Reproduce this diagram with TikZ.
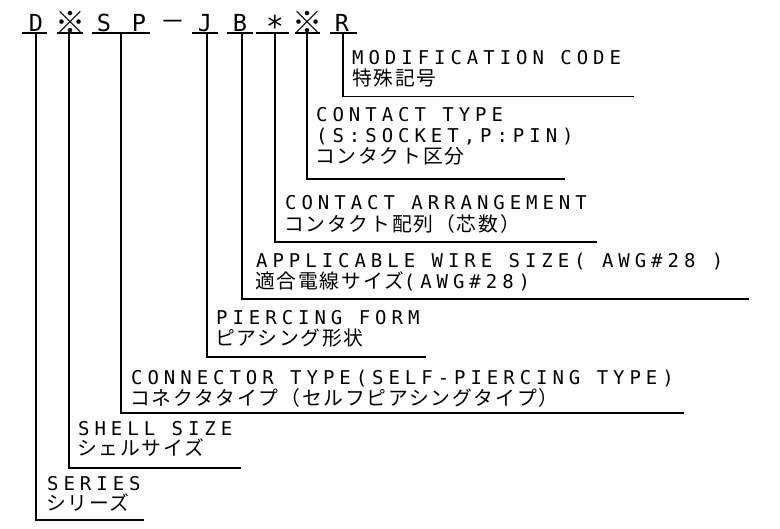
\documentclass[tikz,border=0pt]{standalone}
\usepackage{fontspec}
\newfontfamily\latfont[LetterSpace=26.1]{DejaVu Sans Mono}
\newfontfamily\codefont{DejaVu Sans Mono}
\newfontfamily\jpfont[LetterSpace=9]{Noto Sans CJK JP}
\newfontfamily\jpcode{Noto Sans CJK JP}
\newcommand{\lat}[1]{{\fontsize{19}{20}\latfont #1}}
\newcommand{\jp}[1]{{\fontsize{19.8}{22}\jpfont #1}}
\begin{document}
\begin{tikzpicture}[x=1pt,y=-1pt,
	lead/.style={line width=1.6pt},
	txt/.style={anchor=base west,inner sep=0pt},
	chr/.style={anchor=base,inner sep=0pt,font=\codefont\fontsize{23.5}{24}\selectfont},
	sym/.style={anchor=base,inner sep=0pt,font=\jpcode\fontsize{30}{30}\selectfont}]
	\useasboundingbox[fill=white] (0,0) rectangle (780,529);
	
	% Part number
	\node[chr] (pD) at (36,32) {D};
	\node[sym] (pShell) at (71,33.5) {※};
	\node[chr] (pS) at (104,32) {S};
	\node[chr] (pP) at (139,32) {P};
	\node[sym,font=\jpcode\fontsize{25}{25}\selectfont] (pDash) at (173,30.5) {－};
	\node[chr] (pJ) at (205,32) {J};
	\node[chr] (pB) at (240,32) {B};
	\node[chr,font=\codefont\fontsize{30}{30}\selectfont] (pAst) at (275,38) {*};
	\node[sym] (pType) at (307,33.5) {※};
	\node[chr] (pR) at (342,32) {R};
	
	% Underlines
	\draw[lead] (22,33.3) -- (47,33.3);
	\draw[lead] (57,33.3) -- (83,33.3);
	\draw[lead] (92,33.3) -- (150,33.3);
	\draw[lead] (192,33.3) -- (218,33.3);
	\draw[lead] (227,33.3) -- (253,33.3);
	\draw[lead] (256,33.3) -- (289,33.3);
	\draw[lead] (295,33.3) -- (320,33.3);
	\draw[lead] (330,33.3) -- (357,33.3);
	
	% Leader start and end points
	\coordinate (uSeries) at (36,33.3);
	\coordinate (uShell) at (69,33.3);
	\coordinate (uConn) at (121,33.3);
	\coordinate (uPierce) at (207,33.3);
	\coordinate (uWire) at (242,33.3);
	\coordinate (uArr) at (275,33.3);
	\coordinate (uContact) at (307,33.3);
	\coordinate (uMod) at (343,33.3);
	\coordinate (eSeries) at (144,520);
	\coordinate (eShell) at (241,468);
	\coordinate (eConn) at (684,413);
	\coordinate (ePierce) at (426,357);
	\coordinate (eWire) at (749,299);
	\coordinate (eArr) at (597,242);
	\coordinate (eContact) at (565,179);
	\coordinate (eMod) at (634,96.7);
	
	% Leaders
	\draw[lead] (uSeries) |- (eSeries);
	\draw[lead] (uShell) |- (eShell);
	\draw[lead] (uConn) |- (eConn);
	\draw[lead] (uPierce) |- (ePierce);
	\draw[lead] (uWire) |- (eWire);
	\draw[lead] (uArr) |- (eArr);
	\draw[lead] (uContact) |- (eContact);
	\draw[lead] (uMod) |- (eMod);
	
	% Labels
	\node[txt] (modE) at (352,65) {\lat{MODIFICATION CODE}};
	\node[txt] (modJ) at (352,86) {\jp{特殊記号}};
	\node[txt] (contE) at (316,122) {\lat{CONTACT TYPE}};
	\node[txt] (contE2) at (316,143) {\lat{(S:SOCKET,P:PIN)}};
	\node[txt] (contJ) at (315,164) {\jp{コンタクト区分}};
	\node[txt] (arrE) at (285,210) {\lat{CONTACT ARRANGEMENT}};
	\node[txt] (arrJ) at (284,232) {\jp{コンタクト配列（芯数）}};
	\node[txt] (wireE) at (256,268) {\lat{APPLICABLE WIRE SIZE( AWG\#28 )}};
	\node[txt] (wireJ) at (255,289) {\jp{適合電線サイズ}\lat{(AWG\#28)}};
	\node[txt] (pierE) at (216,325) {\lat{PIERCING FORM}};
	\node[txt] (pierJ) at (215,346) {\jp{ピアシング形状}};
	\node[txt] (connE) at (131,385) {\lat{CONNECTOR TYPE(SELF-PIERCING TYPE)}};
	\node[txt] (connJ) at (130,406) {\jp{コネクタタイプ（セルフピアシングタイプ）}};
	\node[txt] (shellE) at (78,435.5) {\lat{SHELL SIZE}};
	\node[txt] (shellJ) at (77,456) {\jp{シェルサイズ}};
	\node[txt] (serE) at (47,490.5) {\lat{SERIES}};
	\node[txt] (serJ) at (46,511) {\jp{シリーズ}};
\end{tikzpicture}
\end{document}
